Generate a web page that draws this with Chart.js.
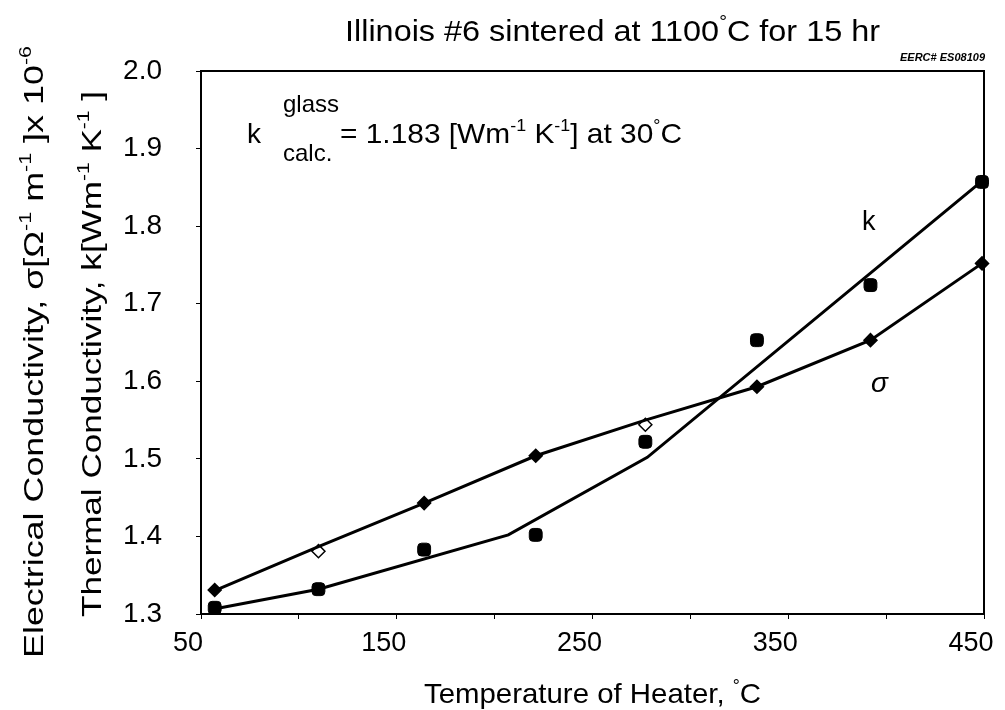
<!DOCTYPE html>
<html>
<head>
<meta charset="utf-8">
<script src="https://cdn.jsdelivr.net/npm/chart.js@4/dist/chart.umd.min.js"></script>
<style>
  html, body { margin: 0; padding: 0; background: #fff; }
  #wrap { width: 1005px; height: 710px; }
</style>
</head>
<body>
<div id="wrap"><canvas id="chart" width="1005" height="710"></canvas></div>
<script>
// 加热器温度 (°C)
const tempPts = [57, 110, 164, 221, 277, 334, 392, 449];
// 电导率 σ 测量点
const sigmaPts = [1.331, 1.381, 1.443, 1.504, 1.544, 1.593, 1.653, 1.752];
// 空心菱形的点
const sigmaHollow = [1, 4];
// 热导率 k 测量点
const kPts = [1.308, 1.332, 1.383, 1.402, 1.522, 1.653, 1.724, 1.857];

// 拟合曲线
const sigmaLineX = [57, 110, 164, 221, 277, 334, 392, 449];
const sigmaLineY = [1.330, 1.387, 1.443, 1.504, 1.550, 1.593, 1.653, 1.752];
const kLineX = [56, 110, 207, 278, 448];
const kLineY = [1.306, 1.332, 1.402, 1.502, 1.856];

// 坐标轴
const xTickLabels = [50, 150, 250, 350, 450];
const xTickMarks = [50, 100, 150, 200, 250, 300, 350, 400, 450];
const yTicks = [1.3, 1.4, 1.5, 1.6, 1.7, 1.8, 1.9, 2.0];

const FONT = '"Liberation Sans", Arial, sans-serif';

function pairs(xs, ys) {
  return xs.map((x, i) => ({ x: x, y: ys[i] }));
}

// 带上标/下标的文字
function richWidth(ctx, parts, size) {
  let w = 0;
  parts.forEach(p => {
    const s = p[1] ? size * 0.6 : size;
    ctx.font = s + 'px ' + FONT;
    w += ctx.measureText(p[0]).width;
  });
  return w;
}
function drawRich(ctx, parts, x, y, size) {
  let cx = x;
  parts.forEach(p => {
    const s = p[1] ? size * 0.6 : size;
    ctx.font = s + 'px ' + FONT;
    const dy = p[1] === 'sup' ? -size * 0.42 : 0;
    ctx.fillText(p[0], cx, y + dy);
    cx += ctx.measureText(p[0]).width;
  });
}
// 按目标宽度横向拉伸
function drawFit(ctx, parts, left, y, size, targetW) {
  const w = richWidth(ctx, parts, size);
  ctx.save();
  ctx.translate(left, y);
  ctx.scale(targetW / w, 1);
  ctx.textAlign = 'left';
  drawRich(ctx, parts, 0, 0, size);
  ctx.restore();
}

const textPlugin = {
  id: 'texts',
  afterDraw(chart) {
    const ctx = chart.ctx;
    const a = chart.chartArea;
    ctx.save();
    ctx.fillStyle = '#000';
    ctx.textBaseline = 'alphabetic';

    // 外框
    ctx.strokeStyle = '#000';
    ctx.lineWidth = 2;
    ctx.strokeRect(a.left, a.top, a.right - a.left, a.bottom - a.top);

    // 标题
    drawFit(ctx, [['Illinois #6 sintered at 1100'], ['°', 'sup'], ['C for 15 hr']], 345, 41, 30, 535);

    ctx.textAlign = 'right';
    ctx.font = 'italic bold 11px ' + FONT;
    ctx.fillText('EERC# ES08109', 985, 61);

    // 图内注释
    ctx.textAlign = 'left';
    ctx.font = '28px ' + FONT;
    ctx.fillText('k', 247, 143);
    ctx.font = '24px ' + FONT;
    ctx.fillText('glass', 283, 112);
    ctx.fillText('calc.', 283, 161);
    drawFit(ctx, [['= 1.183 [Wm'], ['-1', 'sup'], [' K'], ['-1', 'sup'], ['] at 30'], ['°', 'sup'], ['C']], 340, 143, 28, 342);

    ctx.font = '27px ' + FONT;
    ctx.fillText('k', 862, 230);
    ctx.font = 'italic 28px ' + FONT;
    ctx.fillText('σ', 871, 392);

    // y 轴标题（两行，旋转）
    const line1 = [['Electrical Conductivity, σ[Ω'], ['-1', 'sup'], [' m'], ['-1', 'sup'], [' ]x 10'], ['-6', 'sup']];
    const line2 = [['Thermal Conductivity, k[Wm'], ['-1', 'sup'], [' K'], ['-1', 'sup'], [' ]']];
    [[line1, 43, 352, 612], [line2, 101, 354, 526]].forEach(l => {
      ctx.save();
      ctx.translate(l[1], l[2]);
      ctx.rotate(-Math.PI / 2);
      drawFit(ctx, l[0], -l[3] / 2, 0, 28, l[3]);
      ctx.restore();
    });

    // x 轴标题
    drawFit(ctx, [['Temperature of Heater, '], ['°', 'sup'], ['C']], 424, 703, 28, 337);
    ctx.restore();
  }
};

new Chart(document.getElementById('chart'), {
  type: 'scatter',
  data: {
    datasets: [
      {
        label: 'σ line',
        type: 'line',
        data: pairs(sigmaLineX, sigmaLineY),
        borderColor: '#000',
        borderWidth: 3,
        pointRadius: 0,
        tension: 0,
        fill: false
      },
      {
        label: 'k line',
        type: 'line',
        data: pairs(kLineX, kLineY),
        borderColor: '#000',
        borderWidth: 3,
        pointRadius: 0,
        tension: 0,
        fill: false
      },
      {
        label: 'σ',
        data: pairs(tempPts, sigmaPts),
        pointStyle: 'rectRot',
        pointRadius: 6.5,
        pointBorderWidth: 1.5,
        borderColor: '#000',
        backgroundColor: tempPts.map((t, i) => sigmaHollow.includes(i) ? '#fff' : '#000'),
        pointBackgroundColor: tempPts.map((t, i) => sigmaHollow.includes(i) ? '#fff' : '#000')
      },
      {
        label: 'k',
        data: pairs(tempPts, kPts),
        pointStyle: 'rectRounded',
        pointRadius: 7.5,
        pointBorderWidth: 1,
        borderColor: '#000',
        backgroundColor: '#000'
      }
    ]
  },
  options: {
    responsive: false,
    animation: false,
    clip: false,
    layout: { padding: { top: 71, right: 21, left: 0, bottom: 0 } },
    plugins: {
      legend: { display: false },
      tooltip: { enabled: false },
      title: { display: false }
    },
    scales: {
      x: {
        type: 'linear',
        min: 50,
        max: 450,
        afterFit(scale) {
          scale.height = 96;
          scale.paddingLeft = 0;
          scale.paddingRight = 0;
        },
        afterBuildTicks(scale) {
          scale.ticks = xTickMarks.map(v => ({ value: v }));
        },
        ticks: {
          color: '#000',
          font: { family: FONT, size: 27 },
          padding: 8,
          labelOffset: -13,
          maxRotation: 0,
          autoSkip: false,
          callback: v => xTickLabels.includes(v) ? String(v) : ''
        },
        grid: { drawOnChartArea: false, tickLength: 5, color: '#000', lineWidth: 1 },
        border: { display: true, color: '#000', width: 2 }
      },
      y: {
        min: 1.3,
        max: 2.0,
        afterFit(scale) {
          scale.width = 201;
          scale.paddingTop = 0;
          scale.paddingBottom = 0;
        },
        afterBuildTicks(scale) {
          scale.ticks = yTicks.map(v => ({ value: v }));
        },
        ticks: {
          color: '#000',
          font: { family: FONT, size: 28 },
          padding: 34,
          callback: v => v.toFixed(1)
        },
        grid: { drawOnChartArea: false, tickLength: 5, color: '#000', lineWidth: 1 },
        border: { display: true, color: '#000', width: 2 }
      }
    }
  },
  plugins: [textPlugin]
});
</script>
</body>
</html>
